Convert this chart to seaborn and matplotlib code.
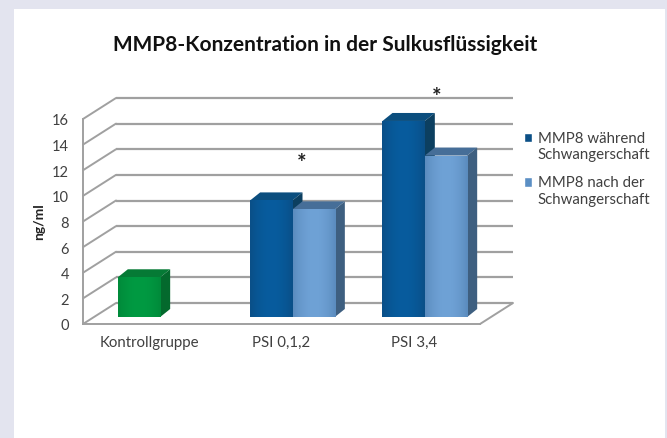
import numpy as np
import pandas as pd
import matplotlib.pyplot as plt
import seaborn as sns
from matplotlib.colors import to_rgb
from matplotlib.legend_handler import HandlerPatch
from matplotlib.patches import Patch, Polygon, Rectangle

categories = ['Kontrollgruppe', 'PSI 0,1,2', 'PSI 3,4']
series_names = ['MMP8 während\nSchwangerschaft', 'MMP8 nach der\nSchwangerschaft']
during = [3.1, 9.1, 15.3]
after = [np.nan, 8.4, 12.6]
y_ticks = [0, 2, 4, 6, 8, 10, 12, 14, 16]

df = pd.DataFrame({'Gruppe': categories * 2,
                   'Serie': [series_names[0]] * 3 + [series_names[1]] * 3,
                   'Wert': during + after})

sns.set_style('white')
plt.rcParams['font.family'] = ['Lato', 'DejaVu Sans']
W, H = 667, 439
text_col = '#404040'
grid_col = '#a0a0a0'

fig = plt.figure(figsize=(W / 100, H / 100), dpi=100, facecolor='#e3e4ef')
fig.add_artist(Rectangle((14 / W, 0), 651 / W, 429 / H, transform=fig.transFigure,
                         facecolor='white', edgecolor='none', zorder=-5))
ax = fig.add_axes([83 / W, (H - 325) / H, 397 / W, 205 / H])
ax.patch.set_alpha(0)

sns.barplot(data=df, x='Gruppe', y='Wert', hue='Serie', order=categories,
            hue_order=series_names, palette=['#0b5794', '#6699cc'],
            width=0.64, gap=0, saturation=1, legend=False, ax=ax, zorder=3)

ax.set_xlim(-0.5, 2.5)
ax.set_ylim(0, 16)
ax.autoscale(False)

# units per pixel, so the fake 3D offsets can be given in data coords
px_x = 3 / 397
px_y = 16 / 205

# back wall and side wall
back_x, back_y = 33 * px_x, 21 * px_y
for t in y_ticks:
    ax.plot([-0.5 + back_x, 2.5 + back_x], [t + back_y] * 2, color=grid_col, lw=1.6,
            clip_on=False, zorder=1, solid_capstyle='butt')
    ax.plot([-0.5, -0.5 + back_x], [t, t + back_y], color=grid_col, lw=1.4,
            clip_on=False, zorder=1)
ax.plot([2.5, 2.5 + back_x], [0, back_y], color=grid_col, lw=1.4, clip_on=False, zorder=1)

# bar colours: front edge, front centre, top, side
blue = ('#0a4f88', '#075c9e', '#0b4e7e', '#0c3f60')
light = ('#5b8cbe', '#6fa2d6', '#466e98', '#3e5f80')
green = ('#008a3a', '#009a42', '#057a35', '#04692d')

depth_x, depth_y = 10 * px_x, 8 * px_y
shift_x, lift = 11 * px_x, 7 * px_y

bars = [p for p in ax.patches if p.get_height() > 0]
for i, bar in enumerate(bars):
    if i == 0:
        cols = green
    elif i < 3:
        cols = blue
    else:
        cols = light
    x0 = bar.get_x() + shift_x
    w = bar.get_width()
    h = bar.get_height()
    bar.set_x(x0)
    bar.set_y(lift)
    bar.set_facecolor(cols[1])
    bar.set_edgecolor('none')
    top = lift + h
    ax.add_patch(Polygon([(x0, top), (x0 + w, top), (x0 + w + depth_x, top + depth_y),
                          (x0 + depth_x, top + depth_y)], closed=True,
                         facecolor=cols[2], edgecolor='none', zorder=3, clip_on=False))
    ax.add_patch(Polygon([(x0 + w, lift), (x0 + w + depth_x, lift + depth_y),
                          (x0 + w + depth_x, top + depth_y), (x0 + w, top)], closed=True,
                         facecolor=cols[3], edgecolor='none', zorder=3, clip_on=False))
    # soft horizontal shading on the front face
    edge, mid = np.array(to_rgb(cols[0])), np.array(to_rgb(cols[1]))
    shade = np.abs(np.linspace(-1, 1, 40))[None, :, None] ** 2
    img = ax.imshow(mid + (edge - mid) * shade, extent=(x0, x0 + w, lift, top),
                    aspect='auto', zorder=4, interpolation='bilinear')
    img.set_clip_path(bar)

ax.set_xlim(-0.5, 2.5)
ax.set_ylim(0, 16)

for side in ['top', 'right']:
    ax.spines[side].set_visible(False)
for side in ['left', 'bottom']:
    ax.spines[side].set_color(grid_col)
    ax.spines[side].set_linewidth(1.4)

ax.set_yticks(y_ticks)
ax.tick_params(axis='y', length=0, pad=10, labelsize=10.5, labelcolor=text_col)
ax.tick_params(axis='x', length=0, pad=8, labelsize=10.8, labelcolor=text_col)
ax.set_xlabel('')
ax.set_ylabel('')

fig.text(325 / W, (H - 45) / H, 'MMP8-Konzentration in der Sulkusflüssigkeit',
         ha='center', va='center', fontsize=15, fontweight='bold', color='#111111')
fig.text(39 / W, (H - 222) / H, 'ng/ml', rotation=90, ha='center', va='center',
         fontsize=10, fontweight='bold', color='#222222')

ax.text(1.155, 12.6, '*', ha='center', va='center', fontsize=16, fontweight='bold',
        color='#222222', clip_on=False)
ax.text(2.17, 17.75, '*', ha='center', va='center', fontsize=16, fontweight='bold',
        color='#222222', clip_on=False)


# legend squares sit on the first text line, not the middle of the two
def first_line_square(legend, orig_handle, xdescent, ydescent, width, height, fontsize):
    return Rectangle((-xdescent, -ydescent + 6.3), width, height)


handles = [Patch(facecolor='#0b4f86'), Patch(facecolor='#5b8fc4')]
leg = ax.legend(handles, series_names, loc='upper left', frameon=False,
                bbox_to_anchor=(524 / W, (H - 132) / H), bbox_transform=fig.transFigure,
                fontsize=10.8, labelcolor=text_col, handlelength=0.55, handleheight=0.55,
                handletextpad=0.35, labelspacing=0.95, borderpad=0, borderaxespad=0,
                handler_map={Patch: HandlerPatch(patch_func=first_line_square)})

fig.savefig('out.png', dpi=100, facecolor=fig.get_facecolor())
